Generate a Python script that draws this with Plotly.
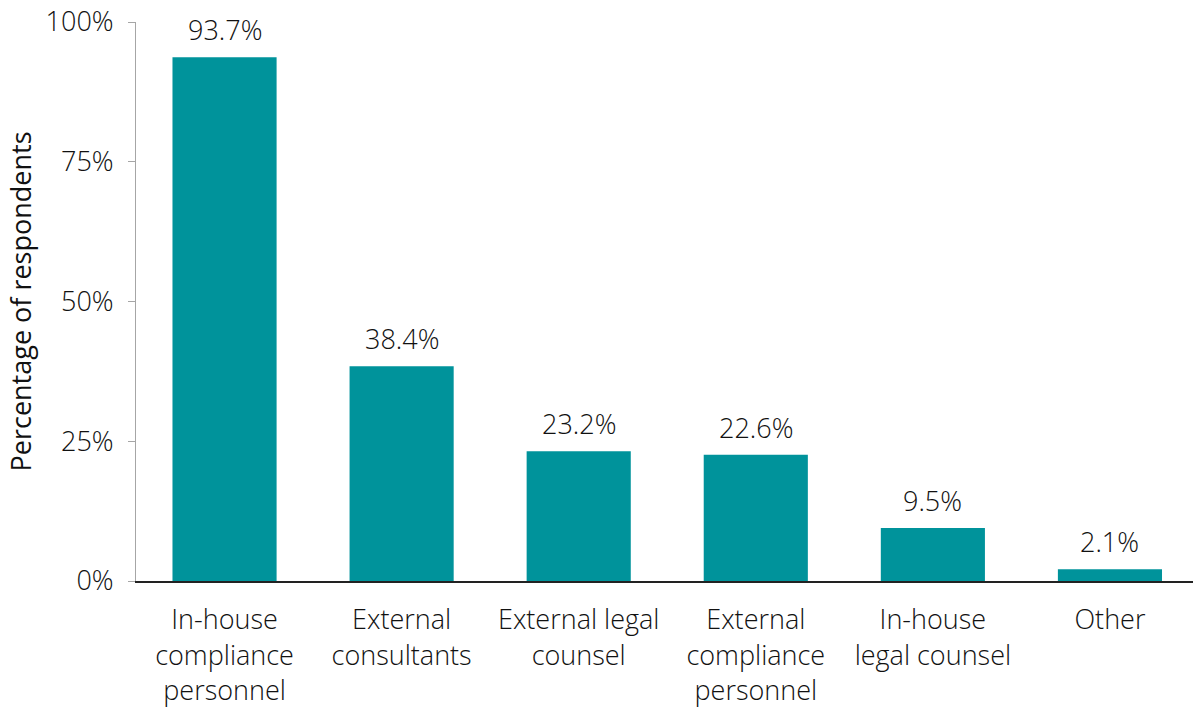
import plotly.graph_objects as go

categories = [
    "In-house<br>compliance<br>personnel",
    "External<br>consultants",
    "External legal<br>counsel",
    "External<br>compliance<br>personnel",
    "In-house<br>legal counsel",
    "Other",
]
values = [93.7, 38.4, 23.2, 22.6, 9.5, 2.1]
y_ticks = [0, 25, 50, 75, 100]
y_tick_labels = ["0%", "25%", "50%", "75%", "100%"]

FONT = "Open Sans"
TEXT = "#111111"
BAR = "#00939B"
FS = 27
LIGHT = 350

fig = go.Figure()
fig.add_trace(go.Bar(
    x=categories,
    y=values,
    marker=dict(color=BAR, line=dict(width=0)),
    hoverinfo="skip",
))

for c, v in zip(categories, values):
    fig.add_annotation(
        x=c, y=v, text=f"{v:.1f}%", showarrow=False,
        yanchor="bottom", yshift=7,
        font=dict(family=FONT, size=FS, color=TEXT, weight=LIGHT),
    )

fig.update_layout(
    width=1193, height=707,
    margin=dict(l=136, r=0, t=22, b=126, autoexpand=False),
    paper_bgcolor="white", plot_bgcolor="white",
    bargap=0.412,
    showlegend=False,
    font=dict(family=FONT, size=FS, color=TEXT),
)
fig.update_xaxes(
    range=[-0.5, 5.469],
    automargin=False,
    showline=True, linecolor="#222222", linewidth=2,
    ticks="", showgrid=False, zeroline=False,
    tickfont=dict(family=FONT, size=FS, color=TEXT, weight=LIGHT),
    ticklabelstandoff=14,
)
fig.update_yaxes(
    range=[0, 100],
    automargin=False,
    tickvals=y_ticks, ticktext=y_tick_labels,
    showline=True, linecolor="#a6a6a6", linewidth=1,
    ticks="outside", ticklen=7, tickcolor="#a6a6a6", tickwidth=1,
    showgrid=False, zeroline=False,
    ticklabelstandoff=9,
    tickfont=dict(family=FONT, size=FS, color=TEXT, weight=LIGHT),
    title=dict(text="Percentage of respondents", standoff=6,
               font=dict(family=FONT, size=FS, color=TEXT)),
)

fig.write_html("out.html", config={"displayModeBar": False},
               post_script="document.body.style.margin='0';")
